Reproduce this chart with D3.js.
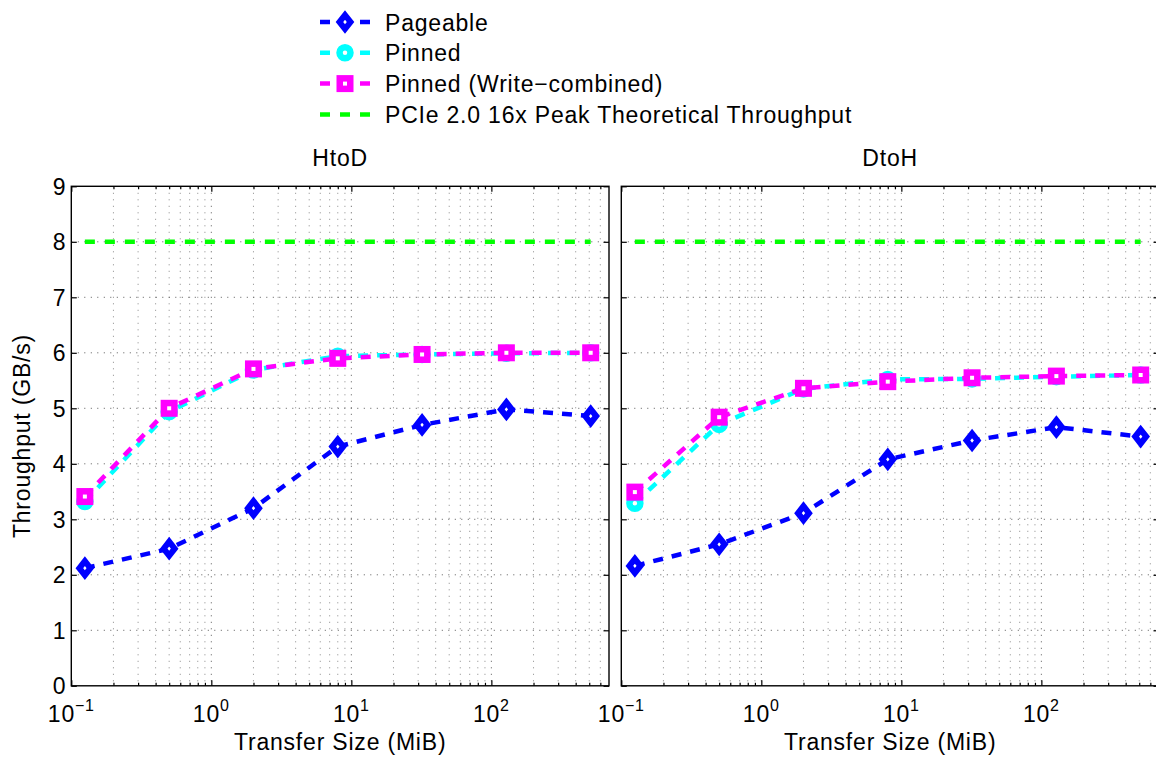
<!DOCTYPE html>
<html>
<head>
<meta charset="utf-8">
<script src="https://cdn.jsdelivr.net/npm/d3@7"></script>
<style>
  body { margin: 0; background: #fff; }
  text { font-family: "Liberation Sans", Arial, Helvetica, sans-serif; fill: #000; letter-spacing: 0.8px; }
</style>
</head>
<body>
<svg id="chart" width="1156" height="758"></svg>
<script>
// Transfer sizes (MiB) and measured throughput (GB/s)
const sizes = [0.125, 0.5, 2, 8, 32, 128, 512];

const htodPageable = [2.12, 2.47, 3.20, 4.31, 4.70, 4.98, 4.86];
const htodPinned   = [3.32, 4.94, 5.69, 5.94, 5.97, 5.99, 6.00];
const htodPinnedWC = [3.41, 5.00, 5.71, 5.90, 5.97, 6.00, 6.00];

const dtohPageable = [2.16, 2.55, 3.11, 4.08, 4.42, 4.66, 4.49];
const dtohPinned   = [3.29, 4.71, 5.35, 5.52, 5.53, 5.57, 5.60];
const dtohPinnedWC = [3.49, 4.84, 5.36, 5.48, 5.55, 5.58, 5.60];

// PCIe 2.0 x16 peak, drawn across the measured size range
const peakSizes = [0.125, 512];
const peakThroughput = [8, 8];

const seriesNames = ["Pageable", "Pinned", "Pinned (Write\u2212combined)", "PCIe 2.0 16x Peak Theoretical Throughput"];
const panelTitles = ["HtoD", "DtoH"];
const yTickValues = [0, 1, 2, 3, 4, 5, 6, 7, 8, 9];
const xMajorExponents = [-1, 0, 1, 2];
const xLabel = "Transfer Size (MiB)";
const yLabel = "Throughput (GB/s)";

const colors = { pageable: "#0000ff", pinned: "#00ffff", wc: "#ff00ff", peak: "#00ff00" };

const svg = d3.select("#chart");
const FONT = 23;

const panelW = 537.7, panelH = 499.5, plotTop = 186.3;
const panels = [
  { x0: 71.3, title: panelTitles[0], data: [htodPageable, htodPinned, htodPinnedWC], yLabels: true },
  { x0: 621.3, title: panelTitles[1], data: [dtohPageable, dtohPinned, dtohPinnedWC], yLabels: false }
];

const x = d3.scaleLog().domain([0.1, 692]).range([0, panelW]);
const y = d3.scaleLinear().domain([0, 9]).range([panelH, 0]);

// minor log ticks 2..9 in each decade inside the domain
const minorTicks = [];
for (let e = -1; e <= 2; e++) {
  for (let m = 2; m <= 9; m++) {
    const v = m * Math.pow(10, e);
    if (v <= 692) minorTicks.push(v);
  }
}
const majorTicks = xMajorExponents.map(e => Math.pow(10, e));

// marker shapes: thick outlines with a small white centre
function drawMarker(g, kind, cx, cy, color) {
  if (kind === "diamond") {
    const hw = 5.5, hh = 7;
    g.append("path")
      .attr("d", `M${cx},${cy - hh}L${cx + hw},${cy}L${cx},${cy + hh}L${cx - hw},${cy}Z`)
      .attr("fill", "#fff").attr("stroke", color).attr("stroke-width", 6)
      .attr("stroke-linejoin", "miter");
  } else if (kind === "circle") {
    g.append("circle").attr("cx", cx).attr("cy", cy).attr("r", 5.5)
      .attr("fill", "#fff").attr("stroke", color).attr("stroke-width", 6.5);
  } else if (kind === "square") {
    const s = 10.5;
    g.append("rect").attr("x", cx - s / 2).attr("y", cy - s / 2).attr("width", s).attr("height", s)
      .attr("fill", "#fff").attr("stroke", color).attr("stroke-width", 6.5);
  }
}

const line = d3.line().x(d => x(d[0])).y(d => y(d[1]));
const dash = "10,9";

panels.forEach(p => {
  const g = svg.append("g").attr("transform", `translate(${p.x0},${plotTop})`);

  // grid
  const grid = g.append("g").attr("stroke", "#222").attr("stroke-width", 1)
    .attr("stroke-dasharray", "1,5.5").attr("fill", "none").attr("opacity", 0.75);
  yTickValues.slice(1, -1).forEach(v => {
    grid.append("line").attr("x1", 0).attr("x2", panelW).attr("y1", y(v)).attr("y2", y(v));
  });
  majorTicks.concat(minorTicks).forEach(v => {
    if (v <= 0.1) return;
    grid.append("line").attr("x1", x(v)).attr("x2", x(v)).attr("y1", 0).attr("y2", panelH)
      .attr("opacity", majorTicks.includes(v) ? 1 : 0.7);
  });

  // ticks (inward) on all four sides
  const axB = g.append("g").attr("transform", `translate(0,${panelH})`)
    .call(d3.axisBottom(x).tickValues(majorTicks).tickSize(-5.5).tickFormat(""));
  const axBm = g.append("g").attr("transform", `translate(0,${panelH})`)
    .call(d3.axisBottom(x).tickValues(minorTicks).tickSize(-3).tickFormat(""));
  const axT = g.append("g")
    .call(d3.axisTop(x).tickValues(majorTicks).tickSize(-5.5).tickFormat(""));
  const axTm = g.append("g")
    .call(d3.axisTop(x).tickValues(minorTicks).tickSize(-3).tickFormat(""));
  const axL = g.append("g")
    .call(d3.axisLeft(y).tickValues(yTickValues).tickSize(-5.5).tickPadding(5)
      .tickFormat(p.yLabels ? d3.format("d") : ""));
  const axR = g.append("g").attr("transform", `translate(${panelW},0)`)
    .call(d3.axisRight(y).tickValues(yTickValues).tickSize(-5.5).tickFormat(""));
  [axB, axBm, axT, axTm, axL, axR].forEach(a => {
    a.select(".domain").remove();
    a.selectAll(".tick line").attr("stroke", "#000").attr("stroke-width", 1.2);
  });
  axL.selectAll(".tick text").attr("font-size", FONT).attr("dy", "0.34em")
    .attr("font-family", "Liberation Sans, Arial, sans-serif");

  // x tick labels with superscript exponents
  xMajorExponents.forEach(e => {
    const t = g.append("text").attr("x", x(Math.pow(10, e))).attr("y", panelH + 36)
      .attr("text-anchor", "middle").attr("font-size", FONT);
    t.append("tspan").text("10");
    t.append("tspan").attr("font-size", 16).attr("dy", -11)
      .text(e < 0 ? "\u2212" + Math.abs(e) : String(e));
  });

  // axis box
  g.append("rect").attr("x", 0).attr("y", 0).attr("width", panelW).attr("height", panelH)
    .attr("fill", "none").attr("stroke", "#000").attr("stroke-width", 1.4);

  // series
  const series = [
    { vals: p.data[0], color: colors.pageable, marker: "diamond" },
    { vals: p.data[1], color: colors.pinned, marker: "circle" },
    { vals: p.data[2], color: colors.wc, marker: "square" }
  ];
  series.forEach(s => {
    const pts = sizes.map((v, i) => [v, s.vals[i]]);
    g.append("path").datum(pts).attr("d", line).attr("fill", "none")
      .attr("stroke", s.color).attr("stroke-width", 4.5).attr("stroke-dasharray", dash);
    const mg = g.append("g");
    pts.forEach(d => drawMarker(mg, s.marker, x(d[0]), y(d[1]), s.color));
  });
  const peakPts = peakSizes.map((v, i) => [v, peakThroughput[i]]);
  g.append("path").datum(peakPts).attr("d", line).attr("fill", "none")
    .attr("stroke", colors.peak).attr("stroke-width", 4.5).attr("stroke-dasharray", "10,10");

  // title and x label
  g.append("text").attr("x", panelW / 2).attr("y", -20).attr("text-anchor", "middle")
    .attr("font-size", FONT).text(p.title);
  g.append("text").attr("x", panelW / 2).attr("y", panelH + 64).attr("text-anchor", "middle")
    .attr("font-size", FONT).text(xLabel);
});

// y label
svg.append("text").attr("transform", `translate(30,${plotTop + panelH / 2}) rotate(-90)`)
  .attr("text-anchor", "middle").attr("font-size", FONT).text(yLabel);

// legend
const legend = svg.append("g");
const legendMarkers = ["diamond", "circle", "square", null];
const legendColors = [colors.pageable, colors.pinned, colors.wc, colors.peak];
seriesNames.forEach((name, i) => {
  const base = 30.5 + i * 30.8;
  const cy = base - 8.5;
  legend.append("line").attr("x1", 320).attr("x2", 370).attr("y1", cy).attr("y2", cy)
    .attr("stroke", legendColors[i]).attr("stroke-width", 4.5).attr("stroke-dasharray", "10,10");
  if (legendMarkers[i]) drawMarker(legend, legendMarkers[i], 345, cy, legendColors[i]);
  legend.append("text").attr("x", 385).attr("y", base).attr("font-size", FONT).text(name);
});
</script>
</body>
</html>
